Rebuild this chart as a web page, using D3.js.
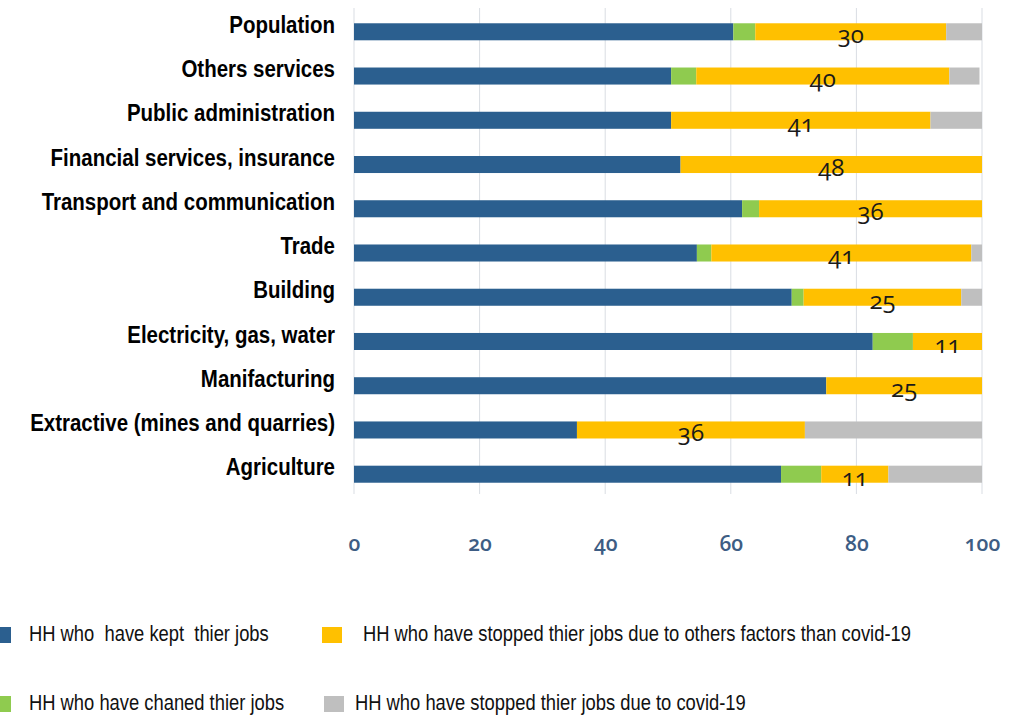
<!DOCTYPE html>
<html>
<head>
<meta charset="utf-8">
<script src="https://cdn.jsdelivr.net/npm/d3@7"></script>
<style>
  body { margin: 0; background: #fff; }
  svg { display: block; }
  .cat { font-family: "Liberation Sans", Arial, sans-serif; font-weight: bold; font-size: 23px; fill: #000; }
  .val { font-family: "Open Sans", "Noto Sans", sans-serif; font-variant-numeric: oldstyle-nums; font-size: 24px; fill: #1a1a1a; }
  .tick text { font-family: "Open Sans", "Noto Sans", sans-serif; font-variant-numeric: oldstyle-nums; font-size: 21px; font-weight: 600; fill: #3d5d84; }
  .leg { font-family: "Liberation Sans", Arial, sans-serif; font-size: 22px; fill: #111; white-space: pre; }
</style>
</head>
<body>
<div id="chart"></div>
<script>
// sectors, top to bottom
const sectors = ["Population", "Others services", "Public administration",
    "Financial services, insurance", "Transport and communication", "Trade",
    "Building", "Electricity, gas, water", "Manifacturing",
    "Extractive (mines and quarries)", "Agriculture"];

// share of households (%) per sector
const kept    = [60.4, 50.5, 50.5, 52.0, 61.8, 54.6, 69.7, 82.6, 75.2, 35.5, 68.0];
const changed = [ 3.5,  4.0,  0.0,  0.0,  2.7,  2.3,  1.9,  6.4,  0.0,  0.0,  6.4];
const others  = [30.4, 40.3, 41.3, 48.0, 35.5, 41.4, 25.1, 11.0, 24.8, 36.3, 10.7];
const covid   = [ 5.7,  4.8,  8.2,  0.0,  0.0,  1.7,  3.3,  0.0,  0.0, 28.2, 14.9];

// labels printed in the yellow segment
const othersLabels = ["30", "40", "41", "48", "36", "41", "25", "11", "25", "36", "11"];

const xTicks = [0, 20, 40, 60, 80, 100];

const seriesNames = ["HH who  have kept  thier jobs", "HH who have chaned thier jobs",
    "HH who have stopped thier jobs due to others factors than covid-19",
    "HH who have stopped thier jobs due to covid-19"];
const seriesColors = ["#2b5f8f", "#8fcb4f", "#ffc000", "#bfbfbf"];

const width = 1012, height = 728;

const svg = d3.select("#chart").append("svg")
    .attr("width", width)
    .attr("height", height);

const x = d3.scaleLinear().domain([0, 100]).range([354, 982]);
const y = d3.scaleBand().domain(sectors).range([10, 496]).paddingInner(0.615).paddingOuter(0.3);

// build stacked rows
const keys = ["kept", "changed", "others", "covid"];
const rows = sectors.map((s, i) => ({
    sector: s, kept: kept[i], changed: changed[i], others: others[i], covid: covid[i], label: othersLabels[i]
}));
const stacked = d3.stack().keys(keys)(rows);

// vertical grid lines
svg.append("g")
    .selectAll("line")
    .data(xTicks)
    .enter().append("line")
        .attr("x1", d => x(d)).attr("x2", d => x(d))
        .attr("y1", 8).attr("y2", 494)
        .attr("stroke", "#d9dde3")
        .attr("stroke-width", 1);

// bars
svg.append("g")
    .selectAll("g")
    .data(stacked)
    .enter().append("g")
        .attr("fill", (d, i) => seriesColors[i])
    .selectAll("rect")
    .data(d => d)
    .enter().append("rect")
        .attr("x", d => x(d[0]))
        .attr("y", d => y(d.data.sector))
        .attr("width", d => x(d[1]) - x(d[0]))
        .attr("height", y.bandwidth());

// value labels in the yellow segment
const yellow = stacked[2];
svg.append("g")
    .selectAll("text")
    .data(yellow)
    .enter().append("text")
        .attr("class", "val")
        .attr("x", d => (x(d[0]) + x(d[1])) / 2)
        .attr("y", d => y(d.data.sector) + y.bandwidth() / 2 + 5)
        .attr("text-anchor", "middle")
        .attr("dominant-baseline", "middle")
        .text(d => d.data.label);

// category labels (condensed, like the original)
svg.append("g")
    .selectAll("text")
    .data(sectors)
    .enter().append("text")
        .attr("class", "cat")
        .attr("transform", d => `translate(335,${y(d) + y.bandwidth() / 2 - 5}) scale(0.89,1)`)
        .attr("text-anchor", "end")
        .attr("dominant-baseline", "middle")
        .text(d => d);

// x axis (labels only)
const xAxis = svg.append("g")
    .attr("transform", "translate(0,536)")
    .call(d3.axisBottom(x).tickValues(xTicks).tickSize(0).tickPadding(0));
xAxis.select(".domain").remove();

// legend
const legendPos = [
    { x: 0,   y: 635 },
    { x: 0,   y: 704 },
    { x: 322, y: 635 },
    { x: 324, y: 704 }
];
const legendTextX = [29, 29, 41, 31];
const legend = svg.append("g")
    .selectAll("g")
    .data(seriesNames)
    .enter().append("g")
        .attr("transform", (d, i) => `translate(${legendPos[i].x},${legendPos[i].y})`);

legend.append("rect")
    .attr("x", (d, i) => i < 2 ? -9 : 0)
    .attr("y", -8)
    .attr("width", 20)
    .attr("height", 16)
    .attr("fill", (d, i) => seriesColors[i]);

legend.append("text")
    .attr("class", "leg")
    .attr("transform", (d, i) => `translate(${legendTextX[i]},0) scale(0.835,1)`)
    .attr("dominant-baseline", "middle")
    .text(d => d);
</script>
</body>
</html>
